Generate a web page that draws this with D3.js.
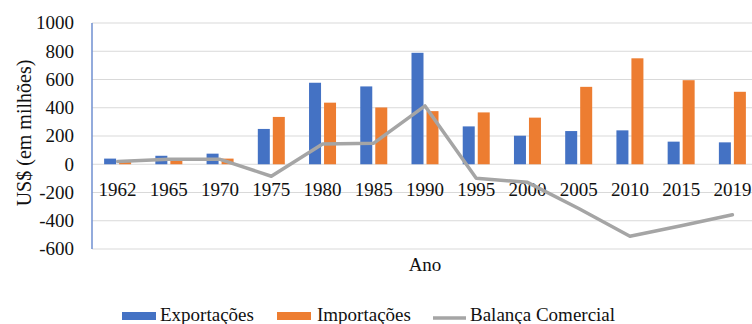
<!DOCTYPE html>
<html>
<head>
<meta charset="utf-8">
<script src="https://cdn.jsdelivr.net/npm/d3@7"></script>
<style>
  html, body { margin: 0; padding: 0; background: #fff; overflow: hidden; }
  svg { display: block; }
</style>
</head>
<body>
<svg id="chart" width="752" height="324"></svg>
<script>
const categories = ["1962","1965","1970","1975","1980","1985","1990","1995","2000","2005","2010","2015","2019"];
const exportacoes = [40, 60, 75, 250, 577, 551, 789, 268, 202, 235, 240, 160, 155];
const importacoes = [20, 25, 40, 335, 436, 402, 376, 367, 330, 548, 750, 595, 513];
const balanca = [20, 35, 35, -85, 143, 149, 413, -99, -128, -313, -510, -435, -358];
const yTicks = [-600, -400, -200, 0, 200, 400, 600, 800, 1000];
const seriesNames = ["Exportações", "Importações", "Balança Comercial"];
const colors = { "Exportações": "#4472c4", "Importações": "#ed7d31", "Balança Comercial": "#a5a5a5" };

(function () {
const FONT = '"Liberation Serif"';
const svg = d3.select("#chart");
const pLeft = 92, pRight = 758, pTop = 23, pBottom = 249;

const x = d3.scaleBand().domain(categories).range([pLeft, pRight]).padding(0);
const step = x.step();
const x1 = d3.scaleBand().domain(["Exportações", "Importações"])
  .range([step / 2 - 13.5, step / 2 + 13.5]).paddingInner(0.2).paddingOuter(0);
const y = d3.scaleLinear().domain([-600, 1000]).range([pBottom, pTop]);

// gridlines
svg.append("g").selectAll("line").data(yTicks).join("line")
  .attr("x1", pLeft).attr("x2", pRight)
  .attr("y1", d => y(d)).attr("y2", d => y(d))
  .attr("stroke", "#d9d9d9").attr("stroke-width", 1);

// y axis line
svg.append("line").attr("x1", pLeft).attr("x2", pLeft)
  .attr("y1", y(1000)).attr("y2", y(-600))
  .attr("stroke", "#6f8fd0").attr("stroke-width", 1.5);

// y tick labels
svg.append("g").selectAll("text").data(yTicks).join("text")
  .attr("x", 74).attr("y", d => y(d)).attr("dy", "0.34em")
  .attr("text-anchor", "end").attr("font-size", 19).attr("fill", "#111")
  .style("font-family", FONT)
  .text(d => d);

// bars
const rows = categories.map((c, i) => ({ cat: c, vals: [
  { name: "Exportações", v: exportacoes[i] },
  { name: "Importações", v: importacoes[i] }
]}));
svg.append("g").selectAll("g").data(rows).join("g")
  .attr("transform", d => `translate(${x(d.cat)},0)`)
  .selectAll("rect").data(d => d.vals).join("rect")
  .attr("x", d => x1(d.name)).attr("width", x1.bandwidth())
  .attr("y", d => y(Math.max(0, d.v)))
  .attr("height", d => Math.abs(y(d.v) - y(0)))
  .attr("fill", d => colors[d.name]);

// category labels
svg.append("g").selectAll("text").data(categories).join("text")
  .attr("x", d => x(d) + step / 2).attr("y", 196)
  .attr("text-anchor", "middle").attr("font-size", 19).attr("fill", "#111")
  .style("font-family", FONT)
  .text(d => d);

// balance line
const line = d3.line().x((d, i) => x(categories[i]) + step / 2).y(d => y(d));
svg.append("path").datum(balanca).attr("d", line)
  .attr("fill", "none").attr("stroke", colors["Balança Comercial"])
  .attr("stroke-width", 3.5).attr("stroke-linejoin", "round").attr("stroke-linecap", "round");

// axis titles
svg.append("text").attr("transform", `translate(31,${(pTop + pBottom) / 2 - 3}) rotate(-90)`)
  .attr("text-anchor", "middle").attr("font-size", 20).attr("fill", "#111")
  .style("font-family", FONT)
  .text("US$ (em milhões)");
svg.append("text").attr("x", (pLeft + pRight) / 2).attr("y", 271)
  .attr("text-anchor", "middle").attr("font-size", 19).attr("fill", "#111")
  .style("font-family", FONT)
  .text("Ano");

// legend
const legend = [
  { name: "Exportações", sx: 122, tx: 160, type: "rect" },
  { name: "Importações", sx: 277, tx: 317, type: "rect" },
  { name: "Balança Comercial", sx: 433, tx: 470, type: "line" }
];
const lg = svg.append("g");
legend.forEach(l => {
  if (l.type === "rect") {
    lg.append("rect").attr("x", l.sx).attr("y", 312).attr("width", 34).attr("height", 8)
      .attr("fill", colors[l.name]);
  } else {
    lg.append("line").attr("x1", l.sx).attr("x2", l.sx + 33).attr("y1", 318).attr("y2", 318)
      .attr("stroke", colors[l.name]).attr("stroke-width", 3.5);
  }
  lg.append("text").attr("x", l.tx).attr("y", 321).attr("font-size", 19).attr("fill", "#111")
    .style("font-family", FONT)
    .text(l.name);
});
})();
</script>
</body>
</html>
